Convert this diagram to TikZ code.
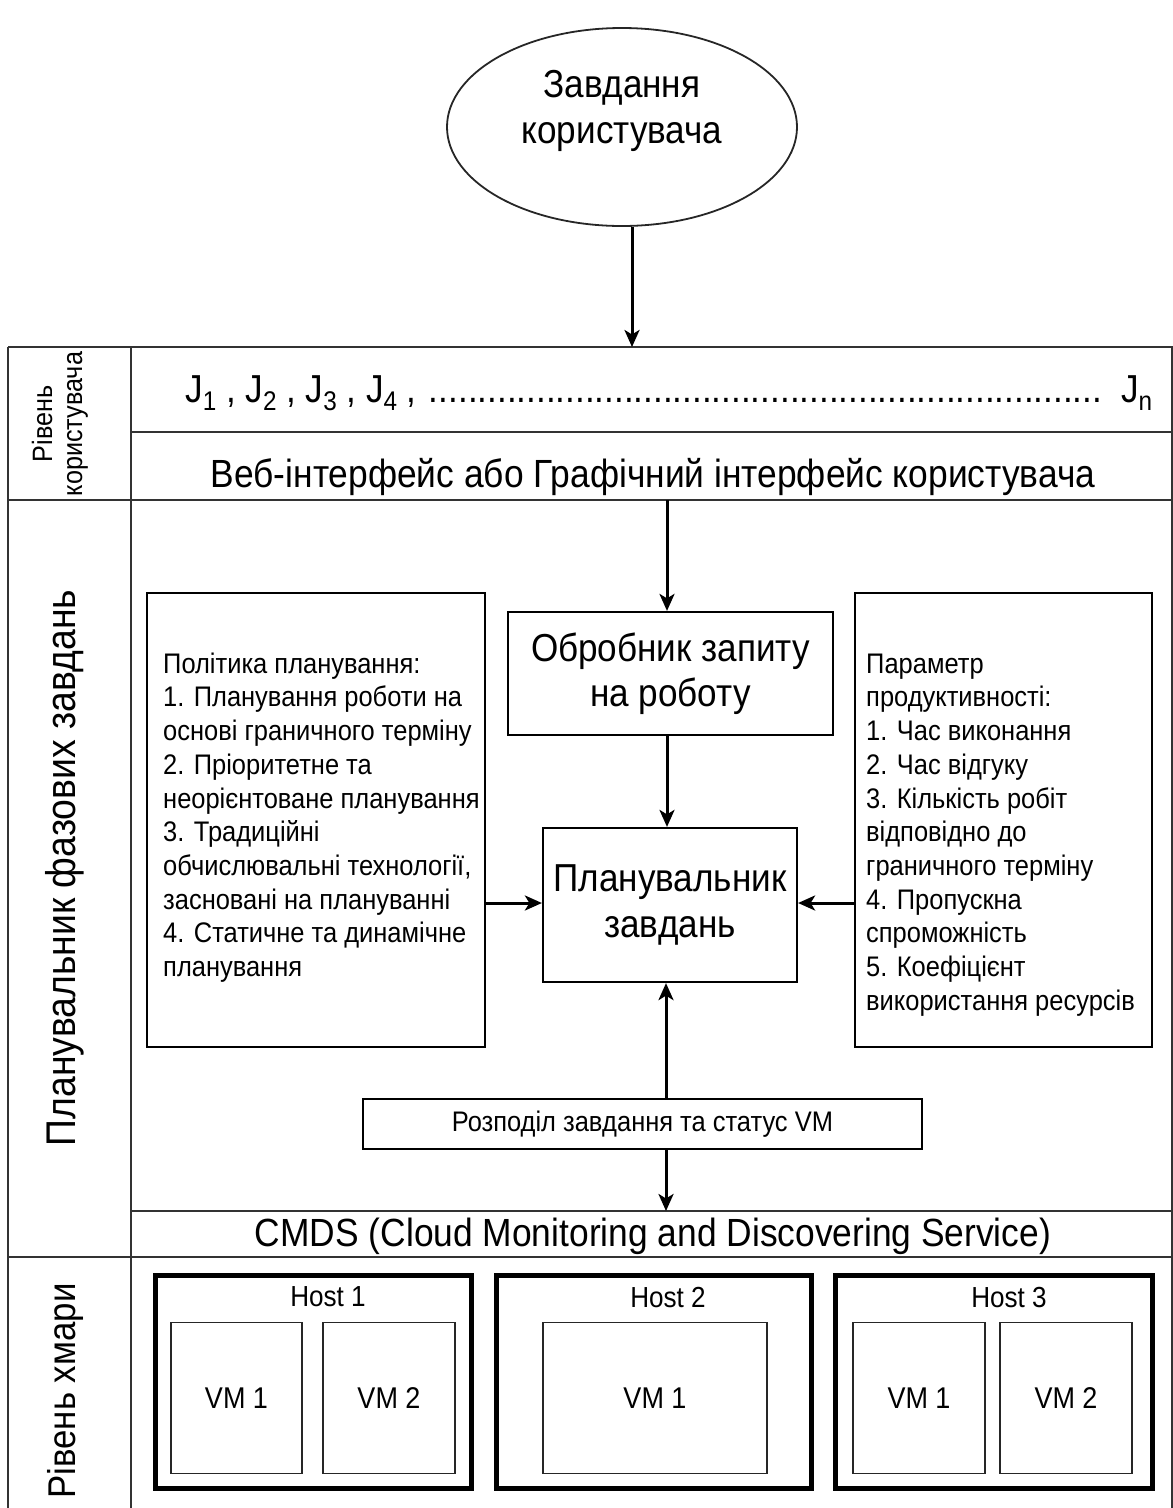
\documentclass[tikz,border=0pt]{standalone}
\usepackage{fontspec}
\setmainfont{Liberation Sans}[FakeStretch=0.9]
\usetikzlibrary{shapes.geometric,arrows.meta}
\newcommand\jsub[1]{\raisebox{-8pt}{\fontsize{27}{27}\selectfont #1}}
\begin{document}
\begin{tikzpicture}[x=1pt,y=-1pt,
  frame/.style={draw=black!80, line width=1.8pt},
  box/.style={draw=black, line width=2.2pt, inner sep=0pt},
  hostbox/.style={draw=black, line width=5pt, inner sep=0pt},
  vmbox/.style={draw=black!85, line width=1.8pt, inner sep=0pt},
  arr/.style={draw=black, line width=3pt, -{Stealth[length=17pt,width=15pt,inset=4.5pt]}},
  big/.style={font=\fontsize{39}{45.5}\selectfont},
  mid/.style={font=\fontsize{28.3}{33.7}\selectfont},
  sml/.style={font=\fontsize{29}{33}\selectfont},
  vmlbl/.style={font=\fontsize{30}{34}\selectfont},
]
\useasboundingbox (0,0) rectangle (1173,1508);

% user task ellipse
\node[ellipse, draw=black!85, line width=1.8pt, minimum width=350pt, minimum height=198pt, inner sep=0pt] (user) at (622,127) {};
\node[big, align=center] (usertxt) at (622,111) {Завдання\\користувача};

% frame
\draw[frame] (8,347) -- (1172,347) -- (1172,1512);
\draw[frame] (8,347) -- (8,1512);
\draw[frame] (131,347) -- (131,1512);
\draw[frame] (131,432) -- (1172,432);
\draw[frame] (8,500) -- (1172,500);
\draw[frame] (131,1211) -- (1172,1211);
\draw[frame] (8,1257) -- (1172,1257);

\coordinate (jtop) at (632,347);
\coordinate (webbot) at (667,500);
\coordinate (arrx) at (667,0);
\coordinate (cmdstop) at (666,1211);

% row labels (rotated)
\node[rotate=90, align=center, font=\fontsize{28}{30}\selectfont] (lvluser) at (60,424) {Рівень\\користувача};
\node[rotate=90, font=\fontsize{41.5}{46}\selectfont] (lvlplan) at (65,868) {Планувальник фазових завдань};
\node[rotate=90, font=\fontsize{38.7}{44}\selectfont] (lvlcloud) at (65,1391) {Рівень хмари};

% J row
\node[big, anchor=base west, inner sep=0pt] (jrow) at (185,402)
  {\hbox to 967pt{J\jsub1 , J\jsub2 , J\jsub3 , J\jsub4 , \leaders\hbox{.}\hfill{} J\jsub n}};

% web interface
\node[big, font=\fontsize{39.3}{46}\selectfont, anchor=base, inner sep=0pt] (web) at (653,487) {Веб-інтерфейс або Графічний інтерфейс користувача};

% request handler
\node[box, big, align=center, minimum width=325pt, minimum height=123pt] (obr) at (670.5,673.5) {Обробник запиту\\на роботу};

% scheduler
\node[box, big, align=center, minimum width=254pt, minimum height=154pt] (plan) at (670,905) {Планувальник\\завдань};

% left policy box
\node[box, minimum width=338pt, minimum height=454pt] (left) at (316,820) {};
\node[mid, align=left, anchor=north west, inner sep=0pt] (lefttxt) at (163,649.4)
  {\strut Політика планування:\\
   1. Планування роботи на\\
   основі граничного терміну\\
   2. Пріоритетне та\\
   неорієнтоване планування\\
   3. Традиційні\\
   обчислювальні технології,\\
   засновані на плануванні\\
   4. Статичне та динамічне\\
   планування};

% right parameter box
\node[box, minimum width=297pt, minimum height=454pt] (right) at (1003.5,820) {};
\node[mid, align=left, anchor=north west, inner sep=0pt] (righttxt) at (866,649.4)
  {\strut Параметр\\
   продуктивності:\\
   1. Час виконання\\
   2. Час відгуку\\
   3. Кількість робіт\\
   відповідно до\\
   граничного терміну\\
   4. Пропускна\\
   спроможність\\
   5. Коефіцієнт\\
   використання ресурсів};

% distribution box
\node[box, mid, minimum width=559pt, minimum height=50pt] (rozp) at (642.5,1124) {Розподіл завдання та статус VM};

% CMDS
\node[big, font=\fontsize{39.3}{46}\selectfont, anchor=base, inner sep=0pt] (cmds) at (653,1246) {CMDS (Cloud Monitoring and Discovering Service)};

% hosts
\node[hostbox, minimum width=316pt, minimum height=213pt] (h1) at (313,1381.5) {};
\node[hostbox, minimum width=315pt, minimum height=213pt] (h2) at (653.5,1381.5) {};
\node[hostbox, minimum width=317pt, minimum height=213pt] (h3) at (993.5,1381.5) {};
\node[sml] (h1l) at (328,1297) {Host 1};
\node[sml] (h2l) at (668,1297) {Host 2};
\node[sml] (h3l) at (1009,1297) {Host 3};

\node[vmbox, vmlbl, minimum width=131pt, minimum height=151pt] (h1v1) at (236.5,1398) {VM 1};
\node[vmbox, vmlbl, minimum width=132pt, minimum height=151pt] (h1v2) at (389,1398) {VM 2};
\node[vmbox, vmlbl, minimum width=224pt, minimum height=151pt] (h2v1) at (655,1398) {VM 1};
\node[vmbox, vmlbl, minimum width=132pt, minimum height=151pt] (h3v1) at (919,1398) {VM 1};
\node[vmbox, vmlbl, minimum width=132pt, minimum height=151pt] (h3v2) at (1066,1398) {VM 2};

% arrows
\draw[arr] ([xshift=10pt]user.south) -- (jtop);
\draw[arr] (webbot) -- (obr.north -| webbot);
\draw[arr] (obr.south -| arrx) -- (plan.north -| arrx);
\draw[arr] (left.east |- 0,903) -- (plan.west |- 0,903);
\draw[arr] (right.west |- 0,903) -- (plan.east |- 0,903);
\draw[arr] (rozp.north -| cmdstop) -- (plan.south -| cmdstop);
\draw[arr] (rozp.south -| cmdstop) -- (cmdstop);
\end{tikzpicture}
\end{document}
